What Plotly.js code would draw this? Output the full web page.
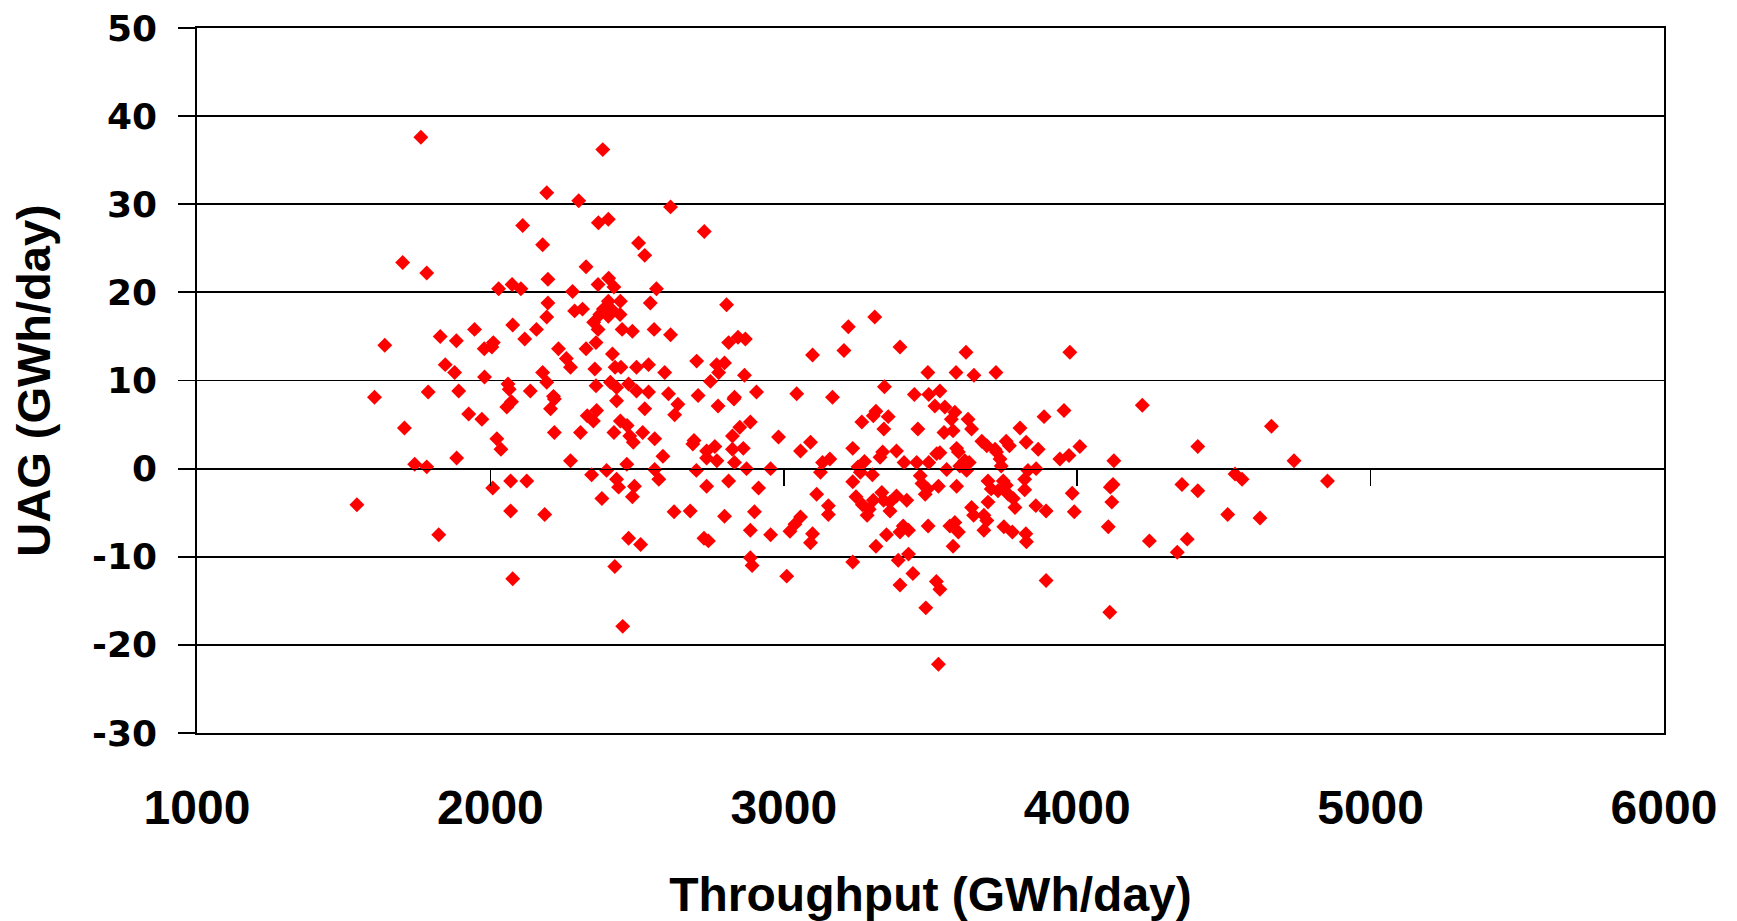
<!DOCTYPE html>
<html>
<head>
<meta charset="utf-8">
<script src="https://cdn.plot.ly/plotly-3.0.1.min.js"></script>
<style>html,body{margin:0;padding:0;background:#fff;}#chart{width:1737px;height:921px;}</style>
</head>
<body>
<div id="chart"></div>
<script>
// Throughput (GWh/day) and UAG (GWh/day)
const throughput = [
1763,2192,2301,2110,2178,1701,1783,2326,2196,2028,2074,2104,2280,2196,2287,2314,2192,2076,2157,1946,
1829,1884,2117,1640,1979,2010,2005,2232,2259,2273,2326,1846,1878,1980,2178,2192,2060,2064,1788,1892,
2136,1605,2215,
2383,2614,2368,2402,2729,2505,2526,2367,2403,2421,2566,2402,2443,2545,2805,2373,2412,2402,2442,2385,
2352,2367,2449,2484,2558,2614,2360,2812,2844,2869,3098,3205,2416,2356,2425,2445,2498,2539,2594,2703,
2771,2798,2778,2750,2866,2360,2409,2430,2471,2498,2539,2607,2708,2832,2907,3044,3166,
3220,3310,3396,3621,3975,3491,3587,3648,3723,3343,3445,3494,3532,
1926,1971,1707,2056,2072,2205,2218,2218,2307,2330,2022,2036,1885,1742,1783,2273,2008,2069,2124,1545,
2069,2185,1824,2076,
2362,2351,2430,2526,2639,2628,2776,2830,2443,2466,2421,2475,2487,2519,2560,2588,2465,2396,2345,2430,
2437,2380,2491,2484,2560,2574,2694,2690,2737,2765,2737,2772,2702,2825,2850,2886,2825,2862,2832,2873,
2955,2982,3057,3091,3125,3132,3157,2737,2812,2914,2626,2681,2798,2900,3112,3152,3152,3057,3038,3021,
2886,2955,3098,3091,2471,2512,2728,2743,2886,2892,2424,3010,2451,
3314,3305,3356,3266,3341,3457,3515,3549,3583,3571,3628,3640,3546,3577,3887,3955,3805,3235,3337,3328,
3384,3275,3410,3453,3494,3521,3532,3589,3595,3600,3623,3632,3555,3675,3692,3720,3737,3741,3758,3769,
3826,3867,4009,3941,3972,3860,3832,3821,3261,3302,3235,3465,3471,3490,3482,3527,3589,3246,3268,3291,
3284,3305,3334,3340,3362,3384,3419,3362,3696,3707,3696,3748,3758,3730,3765,3782,3788,3821,3859,3894,
3983,3990,3640,3647,3682,3692,3682,3492,3566,3583,3595,3577,3407,3396,3425,3350,3314,3750,3779,3825,
3827,3235,3390,3425,3440,3396,3520,3532,3484,3894,3527,3725,3617,3253,
4222,4662,4411,4125,4739,4538,4562,4853,4122,4113,4357,4411,4118,4513,4623,4106,4246,4375,4341,4111
];
const uag = [
37.6,31.3,30.4,27.6,25.4,23.4,22.2,22.9,21.5,20.4,20.9,20.4,20.1,18.8,17.9,18.1,17.2,16.3,15.8,15.8,
15.0,14.5,14.7,14.0,13.6,14.3,13.8,13.6,12.5,11.5,13.6,11.8,10.9,10.4,10.9,9.8,9.6,9.0,8.7,8.8,
8.8,8.1,8.2,
36.2,29.7,27.9,28.3,26.9,25.6,24.2,20.9,21.6,20.6,20.4,19.0,19.0,18.8,18.6,17.5,18.1,17.3,17.5,18.1,
16.6,15.8,15.8,15.6,15.8,15.2,14.3,14.3,14.9,14.7,12.9,13.4,13.0,11.3,11.5,11.5,11.5,11.8,10.9,12.2,
11.8,12.0,10.9,9.9,10.6,9.4,9.8,9.2,9.6,8.8,8.7,8.5,8.3,8.1,8.7,8.5,8.1,
16.1,17.2,13.8,13.2,13.2,10.9,10.9,10.6,10.9,9.3,8.4,8.4,8.8,
6.2,5.6,4.6,7.0,7.6,6.8,7.9,4.1,4.1,6.0,3.4,2.2,1.2,0.5,0.2,0.9,-2.2,-1.4,-1.4,-4.1,
-4.8,-5.2,-7.5,-12.5,
6.6,5.4,7.7,6.8,7.3,6.1,7.1,7.9,5.4,4.9,4.1,3.7,3.0,4.1,3.4,1.4,0.5,-0.2,-0.7,-1.2,
-2.1,-3.4,-2.0,-3.2,-0.1,-1.2,3.2,2.8,2.0,2.5,1.2,0.9,-0.2,3.7,4.7,5.3,2.2,2.3,0.7,0.0,
0.0,3.6,2.0,3.0,-0.4,0.7,1.1,-2.0,-1.4,-2.2,-4.9,-4.8,-5.4,-4.9,-2.9,-4.2,-5.2,-5.5,-6.3,-7.1,
-7.0,-7.5,-7.4,-8.4,-7.9,-8.6,-7.9,-8.2,-10.1,-11.0,-11.1,-12.2,-17.9,
6.5,6.0,5.9,5.3,4.5,4.5,7.1,7.0,6.4,5.6,5.6,4.5,4.1,4.3,5.9,6.6,4.6,2.3,1.9,1.3,
2.0,0.8,0.7,0.7,0.7,1.7,1.8,2.3,1.9,0.3,-0.2,0.7,-0.1,3.1,2.6,2.2,1.1,0.3,3.1,2.6,
3.0,2.2,2.5,1.1,1.5,0.0,-0.2,-1.2,-0.4,-0.7,-1.5,-0.8,-1.7,-2.3,-2.9,-2.0,-2.0,-3.2,-4.1,-4.6,
-5.3,-3.6,-2.7,-3.6,-4.8,-3.1,-3.6,-3.8,-1.4,-2.3,-3.8,-1.4,-1.9,-2.5,-2.9,-3.4,-4.4,-2.4,-4.2,-4.8,
-2.8,-4.9,-4.4,-5.3,-5.3,-5.9,-7.0,-6.5,-6.5,-6.1,-7.2,-8.8,-6.5,-7.2,-7.0,-7.5,-8.8,-6.6,-7.2,-7.4,
-8.3,-10.6,-10.4,-9.7,-11.9,-13.2,-12.8,-13.7,-15.8,-12.7,-22.2,1.9,0.9,0.2,
7.2,4.8,2.5,0.9,0.9,-0.6,-1.2,-1.4,-1.8,-2.1,-1.8,-2.5,-3.8,-5.2,-5.6,-6.6,-8.2,-8.0,-9.5,-16.3
];
const xTicks = [1000, 2000, 3000, 4000, 5000, 6000];
const xInnerTicks = [2000, 3000, 4000, 5000];
const yTicks = [-30, -20, -10, 0, 10, 20, 30, 40, 50];
const yTickText = ['-30', '-20', '-10', '0', '10', '20', '30', '40', '50'];

const boldFont = {family: 'Liberation Sans, Arial, sans-serif', weight: 700, color: '#000'};

const traces = [
  {
    type: 'scatter', mode: 'markers', x: throughput, y: uag,
    marker: {symbol: 'diamond', size: 11.5, color: '#ff0000', line: {width: 0}},
    hoverinfo: 'x+y', showlegend: false
  },
  {type: 'scatter', mode: 'markers', x: [], y: [], xaxis: 'x2', yaxis: 'y', showlegend: false}
];

const layout = {
  width: 1737, height: 921,
  margin: {l: 197, r: 73, t: 28, b: 188},
  paper_bgcolor: '#fff', plot_bgcolor: '#fff',
  showlegend: false,
  xaxis: {
    range: [1000, 6000], tickvals: xTicks, ticktext: xTicks.map(String),
    showgrid: false, zeroline: false,
    showline: true, mirror: true, linecolor: '#000', linewidth: 1.8,
    ticks: '', ticklabelstandoff: 32,
    tickfont: Object.assign({size: 48}, boldFont),
    title: {text: 'Throughput (GWh/day)', font: Object.assign({size: 48}, boldFont), standoff: 54},
    automargin: false
  },
  xaxis2: {
    overlaying: 'x', anchor: 'free', position: 0.375,
    range: [1000, 6000], tickvals: xInnerTicks,
    showticklabels: false, showgrid: false, zeroline: false,
    showline: true, linecolor: '#000', linewidth: 1.8,
    ticks: 'outside', ticklen: 16, tickwidth: 1.8, tickcolor: '#000',
    automargin: false
  },
  yaxis: {
    range: [-30, 50], tickvals: yTicks, ticktext: yTickText,
    showgrid: true, gridcolor: '#000', gridwidth: 1.8,
    zeroline: false,
    showline: true, mirror: true, linecolor: '#000', linewidth: 1.8,
    ticks: 'outside', ticklen: 17, tickwidth: 1.8, tickcolor: '#000',
    ticklabelstandoff: 14,
    tickfont: {family: 'DejaVu Sans, sans-serif', weight: 700, size: 36, color: '#000'},
    title: {text: 'UAG (GWh/day)', font: Object.assign({size: 47}, boldFont), standoff: 26},
    automargin: false
  }
};

Plotly.newPlot('chart', traces, layout, {displayModeBar: false, staticPlot: true});
</script>
</body>
</html>
